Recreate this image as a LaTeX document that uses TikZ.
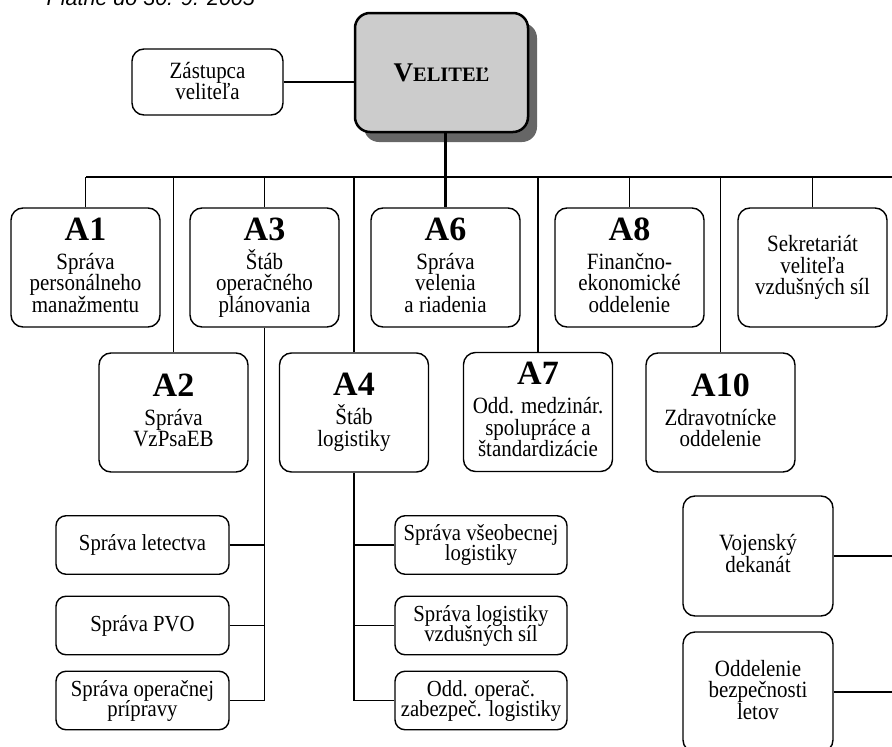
\documentclass[tikz,border=0pt]{standalone}
\usepackage{fontspec}
\setmainfont{Liberation Serif}
\newfontfamily\bodyfont{Liberation Serif}[FakeStretch=0.9]
\newfontfamily\datefont{Liberation Sans}
\usetikzlibrary{shadows}
\lineskiplimit=-30pt

\newcommand{\hd}[1]{{\rmfamily\fontsize{34}{34}\selectfont\bfseries #1}\\[7.5pt]}

\begin{document}
\begin{tikzpicture}[x=1pt,y=-1pt,
  box/.style={draw,line width=1.4pt,rounded corners=12pt,align=center,
    inner sep=0pt,font=\bodyfont\fontsize{23.3}{21.5}\selectfont},
  dept/.style={box,minimum width=149pt,minimum height=119pt,text depth=5pt},
  sub/.style={box,minimum width=173pt,minimum height=58.5pt,rounded corners=10pt,
    font=\bodyfont\fontsize{23}{20}\selectfont},
  link/.style={line width=1.4pt}]
\useasboundingbox (0,0) rectangle (892,747);

\node[anchor=base west,font=\datefont\itshape\fontsize{21.5}{21.5}\selectfont]
  (date) at (43,5) {Platné do 30. 9. 2005};

\node[box,line width=2.5pt,rounded corners=15pt,fill=black!20,
  minimum width=173pt,minimum height=119pt,font=\rmfamily\bfseries,
  drop shadow={shadow xshift=9pt,shadow yshift=-10pt,fill=black!60,opacity=1}]
  (vel) at (441.5,72.5)
  {{\fontsize{27}{27}\selectfont V}{\fontsize{20.5}{20.5}\selectfont ELITEĽ}};
\node[box,minimum width=151pt,minimum height=66pt,text depth=2pt] (zast) at (207.5,82)
  {Zástupca\\veliteľa};

% first row
\node[dept] (A1) at (85.5,267.5) {\hd{A1}Správa\\personálneho\\manažmentu};
\node[dept] (A3) at (264.5,267.5) {\hd{A3}Štáb\\operačného\\plánovania};
\node[dept] (A6) at (445.5,267.5) {\hd{A6}Správa\\velenia\\a riadenia};
\node[dept] (A8) at (629.5,267.5) {\hd{A8}Finančno-\\ekonomické\\oddelenie};
\node[dept] (sek) at (812.5,267.5) {Sekretariát\\veliteľa\\vzdušných síl};

% second row
\node[dept] (A2) at (173.5,412.5) {\hd{A2}Správa\\VzPsaEB};
\node[dept] (A4) at (354,412.5) {\hd{A4}Štáb\\logistiky};
\node[dept] (A7) at (538,412) {\hd{A7}Odd. medzinár.\\spolupráce a\\štandardizácie};
\node[dept] (A10) at (720.5,412.5) {\hd{A10}Zdravotnícke\\oddelenie};

\node[sub] (let) at (142.5,545) {Správa letectva};
\node[sub] (pvo) at (142.5,625.5) {Správa PVO};
\node[sub] (opp) at (142.5,700.5) {Správa operačnej\\prípravy};

\node[sub,minimum width=172pt] (vsl) at (481,545) {Správa všeobecnej\\logistiky};
\node[sub,minimum width=172pt] (lvs) at (481,625.5) {Správa logistiky\\vzdušných síl};
\node[sub,minimum width=172pt] (ozl) at (481,700.5) {Odd. operač.\\zabezpeč. logistiky};

\node[dept,minimum width=150pt,minimum height=120pt] (vojdek) at (758,556)
  {Vojenský\\dekanát};
\node[dept,minimum width=150pt,minimum height=120pt] (obl) at (758,692)
  {Oddelenie\\bezpečnosti\\letov};

\coordinate (busL) at (86,177);
\coordinate (busR) at (892,177);
\draw[line width=2.2pt] (busL) -- (busR);

\draw[line width=1.2pt] (zast.east) -- (zast.east -| vel.west);
\draw[line width=2.5pt] (vel.south -| A6.north) -- (A6.north);

\foreach \unit in {A1,A2,A3,A4,A7,A8,A10,sek}
  \draw[link] (\unit.north) -- (\unit.north |- busL);

% staff branches
\draw[link] (A3.south) |- (opp.east);
\foreach \unit in {let,pvo}
  \draw[link] (\unit.east) -- (\unit.east -| A3.south);
\draw[link] (A4.south) |- (ozl.west);
\foreach \unit in {vsl,lvs}
  \draw[link] (\unit.west) -- (\unit.west -| A4.south);

\foreach \unit in {vojdek,obl}
  \draw[link] (\unit.east) -- (\unit.east -| busR);
\end{tikzpicture}
\end{document}
